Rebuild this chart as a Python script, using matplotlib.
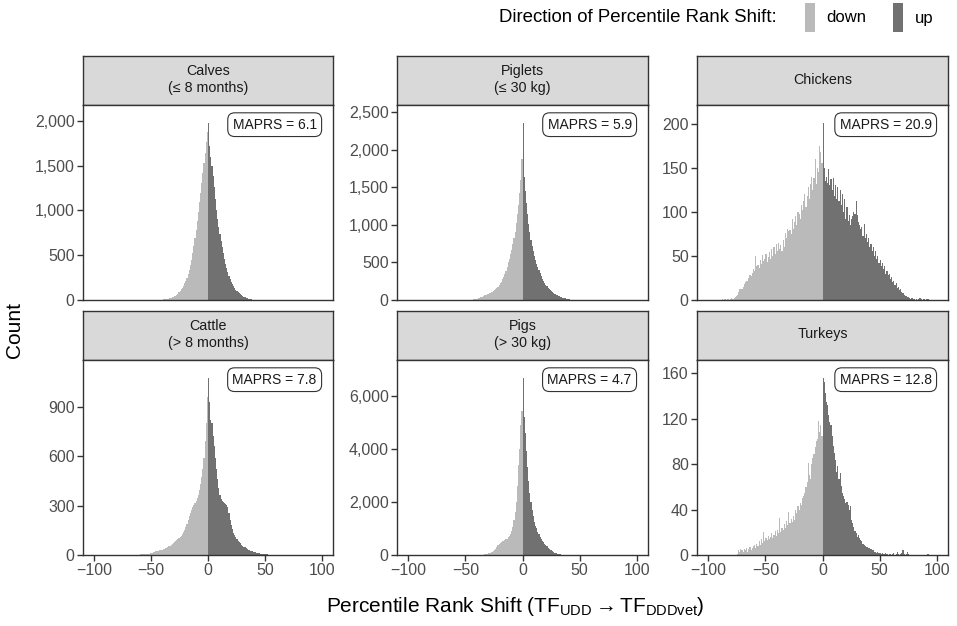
import numpy as np
import matplotlib.pyplot as plt
from matplotlib.patches import Rectangle
from matplotlib.ticker import FuncFormatter

plt.rcParams['font.family'] = ['Liberation Sans', 'DejaVu Sans']
plt.rcParams['mathtext.fontset'] = 'custom'
plt.rcParams['mathtext.rm'] = 'Liberation Sans'
plt.rcParams['mathtext.it'] = 'Liberation Sans:italic'

# ---- data (counts per 1-unit bin) ----
panel_titles = ['Calves\n(≤ 8 months)', 'Piglets\n(≤ 30 kg)', 'Chickens',
                'Cattle\n(> 8 months)', 'Pigs\n(> 30 kg)', 'Turkeys']
maprs = [6.1, 5.9, 20.9, 7.8, 4.7, 12.8]
y_ticks = [[0, 500, 1000, 1500, 2000],
           [0, 500, 1000, 1500, 2000, 2500],
           [0, 50, 100, 150, 200],
           [0, 300, 600, 900],
           [0, 2000, 4000, 6000],
           [0, 40, 80, 120, 160]]
x_ticks = [-100, -50, 0, 50, 100]

calves_start = -50
calves_down = [1, 1, 2, 2, 2, 3, 3, 4, 4, 5, 6, 7, 9, 11, 13, 16, 20, 24, 29, 35,
               42, 50, 60, 72, 85, 100, 118, 138, 160, 185, 215, 250, 290, 335, 390,
               450, 520, 600, 690, 780, 880, 980, 1090, 1200, 1310, 1420, 1530, 1640,
               1760, 1880]
calves_up = [1980, 1720, 1600, 1500, 1380, 1260, 1130, 1010, 900, 815, 740, 660, 590,
             520, 460, 405, 355, 310, 270, 235, 205, 178, 154, 133, 115, 100, 86, 73,
             62, 52, 43, 35, 28, 22, 17, 13, 10, 8, 6, 4, 3, 2, 2, 1]

piglets_start = -50
piglets_down = [1, 1, 2, 2, 3, 4, 5, 7, 10, 13, 18, 24, 30, 38, 45, 52, 60, 66, 72, 78,
                85, 92, 100, 110, 120, 132, 145, 160, 175, 195, 220, 245, 275, 310, 350,
                390, 440, 500, 550, 610, 670, 740, 820, 910, 1020, 1140, 1270, 1420,
                1600, 1880]
piglets_up = [2360, 1640, 1450, 1290, 1140, 1010, 900, 800, 720, 650, 590, 535, 485,
              440, 395, 355, 318, 285, 255, 228, 204, 182, 162, 144, 128, 114, 101, 90,
              80, 70, 62, 54, 47, 40, 34, 29, 24, 20, 16, 13, 10, 8, 6, 5, 4, 3, 2, 2, 1]

chickens_start = -88
chickens_down = [1, 0, 1, 0, 1, 1, 0, 1, 2, 1, 2, 3, 4,
                 6, 9, 12, 13, 12, 15, 18, 20, 22, 21,
                 25, 28, 27, 31, 35, 33, 50, 38, 40, 36,
                 45, 41, 51, 44, 47, 52, 43, 49, 54, 47,
                 58, 50, 60, 52, 63, 55, 65, 58, 62, 56,
                 68, 60, 76, 70, 80, 78, 79, 75, 92, 80,
                 88, 95, 85, 100, 98, 92, 108, 102, 112, 120,
                 105, 118, 128, 115, 132, 140, 125, 138, 160, 132,
                 150, 145, 175, 168, 155]
chickens_up = [201, 150, 135, 140, 133, 148, 130, 137, 125, 138,
               118, 130, 115, 128, 112, 125, 108, 120, 100, 115,
               92, 105, 90, 96, 85, 92, 95, 100, 98, 112,
               96, 88, 85, 80, 83, 72, 86, 70, 75, 66,
               70, 60, 64, 55, 60, 50, 56, 46, 50, 42,
               45, 38, 42, 35, 38, 30, 33, 28, 30, 24,
               26, 20, 22, 17, 19, 14, 15, 11, 12, 9,
               8, 6, 5, 4, 3, 3, 2, 1, 2, 1,
               1, 0, 1, 0, 1, 2, 1, 0, 1, 1,
               0, 1, 1]

cattle_start = -75
cattle_down = [1, 1, 1, 1, 1, 1, 1, 2, 2, 2,
               2, 2, 3, 3, 3,
               4, 4, 5, 5, 6, 7, 7, 8, 9, 10,
               11, 14, 19, 22, 22, 24, 26, 28, 30, 33,
               36, 39, 42, 45, 49, 53, 57, 62, 67, 72,
               78, 84, 90, 96, 103, 110, 118, 127, 138, 150,
               168, 190, 215, 238, 255, 272, 290, 305, 318, 330,
               345, 365, 395, 430, 470, 520, 590, 690, 800, 960]
cattle_up = [1075, 930, 820, 800, 720, 660, 590, 520, 460, 405,
             365, 340, 330, 322, 318, 312, 305, 290, 255, 215,
             180, 155, 135, 120, 108, 97, 87, 78, 70, 63,
             57, 51, 46, 41, 37, 33, 30, 27, 24, 22,
             20, 17, 15, 13, 11, 10, 8, 7, 6, 5,
             5, 4, 4, 3, 3, 2, 2, 2, 1, 1, 1]

pigs_start = -45
pigs_down = [1, 1, 2, 2, 3, 4, 5, 7, 10, 13,
             18, 23, 30, 38, 48, 60, 75, 95, 120, 150,
             190, 240, 300, 360, 420, 470, 500, 520, 540, 560,
             590, 620, 660, 720, 800, 900, 1050, 1300, 1600, 2000,
             2600, 3400, 4000, 4900, 5400]
pigs_up = [6670, 5200, 4600, 3900, 3300, 2800, 2350, 2000, 1700, 1450,
           1250, 1100, 1000, 880, 780, 690, 610, 540, 480, 420,
           370, 320, 275, 235, 200, 170, 140, 115, 92, 72,
           55, 42, 32, 24, 18, 13, 9, 6, 4, 3, 2, 1, 1]

turkeys_start = -75
turkeys_down = [1, 4, 3, 5, 4, 3, 5, 4, 6, 3,
                5, 7, 4, 6, 8, 9, 6, 10, 8, 12,
                9, 14, 11, 20, 12, 15, 13, 17, 14, 16,
                19, 15, 18, 21, 17, 22, 19, 33, 20, 24,
                22, 27, 24, 30, 26, 38, 28, 32, 29, 34,
                31, 40, 37, 43, 40, 46, 44, 50, 52, 55,
                60, 64, 81, 70, 67, 80, 85, 89, 95, 100,
                102, 118, 108, 114, 105]
turkeys_up = [156, 152, 143, 135, 132, 123, 117, 114, 105, 96,
              90, 84, 73, 78, 67, 72, 61, 55, 52, 49,
              46, 47, 44, 40, 43, 31, 28, 25, 21, 19,
              16, 18, 15, 13, 12, 10, 9, 8, 7, 7,
              6, 6, 5, 4, 4, 3, 3, 2, 3, 2,
              2, 1, 2, 1, 1, 2, 1, 0, 1, 1,
              0, 1, 2, 0, 1, 3, 1, 0, 1, 2,
              4, 1, 0, 1, 3, 1, 0, 0, 0, 0,
              0, 0, 0, 0, 0, 0, 0, 0, 0, 0,
              0, 0, 1]

series = [(calves_start, calves_down, calves_up),
          (piglets_start, piglets_down, piglets_up),
          (chickens_start, chickens_down, chickens_up),
          (cattle_start, cattle_down, cattle_up),
          (pigs_start, pigs_down, pigs_up),
          (turkeys_start, turkeys_down, turkeys_up)]

down_col = '#BABABA'
up_col = '#717171'
dark = '#333333'

W, H = 957, 626
fig = plt.figure(figsize=(W / 100, H / 100), dpi=100)

cols_x = [(83, 333), (397, 648), (697, 948)]
rows_y = [(56, 105, 300), (310.7, 360, 555)]


def box(x0, y0, x1, y1):
    return [x0 / W, 1 - y1 / H, (x1 - x0) / W, (y1 - y0) / H]


for i, (start, down, up) in enumerate(series):
    r, c = divmod(i, 3)
    x0, x1 = cols_x[c]
    ys, yp, yb = rows_y[r]

    # strip
    sax = fig.add_axes(box(x0, ys, x1, yp))
    sax.set_facecolor('#D9D9D9')
    sax.set_xticks([])
    sax.set_yticks([])
    for s in sax.spines.values():
        s.set_color(dark)
        s.set_linewidth(1)
    sax.text(0.5, 0.52, panel_titles[i], ha='center', va='center',
             fontsize=10.3, color='#1A1A1A', linespacing=1.3, transform=sax.transAxes)

    ax = fig.add_axes(box(x0, yp, x1, yb))
    down_edges = np.arange(start, 1)
    up_edges = np.arange(0, len(up) + 1)
    ax.stairs(down, down_edges, fill=True, color=down_col, lw=0)
    ax.stairs(up, up_edges, fill=True, color=up_col, lw=0)

    top = max(max(down), max(up))
    ax.set_xlim(-110, 110)
    ax.set_ylim(0, top * 1.1)
    ax.set_yticks(y_ticks[i])
    ax.yaxis.set_major_formatter(FuncFormatter(lambda v, p: f'{int(v):,}'))
    ax.set_xticks(x_ticks)
    for s in ax.spines.values():
        s.set_color(dark)
        s.set_linewidth(1)
    ax.tick_params(direction='out', length=4, width=1, color=dark,
                   labelsize=11.5, labelcolor='#4D4D4D', pad=2)
    if r == 0:
        ax.tick_params(axis='x', bottom=False, labelbottom=False)

    ax.text(0.935, 0.935, f'MAPRS = {maprs[i]}', transform=ax.transAxes,
            ha='right', va='top', fontsize=10, color='#1A1A1A',
            bbox=dict(boxstyle='round,pad=0.35,rounding_size=0.5',
                      fc='white', ec=dark, lw=0.8))

# axis titles
fig.text(515.5 / W, 1 - 607 / H,
         r'Percentile Rank Shift (TF$_{\mathrm{UDD}} \rightarrow \mathrm{TF}_{\mathrm{DDDvet}}$)',
         ha='center', va='center', fontsize=15, color='black')
fig.text(15 / W, 1 - 329.5 / H, 'Count', rotation=90, ha='center', va='center',
         fontsize=15, color='black')

# legend
fig.text(777 / W, 1 - 18 / H, 'Direction of Percentile Rank Shift:',
         ha='right', va='center', fontsize=13.4, color='black')
fig.add_artist(Rectangle((805 / W, 1 - 32.3 / H), 10 / W, 29 / H,
                         transform=fig.transFigure, fc=down_col, ec='none'))
fig.add_artist(Rectangle((893.3 / W, 1 - 32.3 / H), 10 / W, 29 / H,
                         transform=fig.transFigure, fc=up_col, ec='none'))
fig.text(826.7 / W, 1 - 18 / H, 'down', ha='left', va='center', fontsize=12)
fig.text(915 / W, 1 - 18 / H, 'up', ha='left', va='center', fontsize=12)

fig.savefig('out.png', dpi=100)
